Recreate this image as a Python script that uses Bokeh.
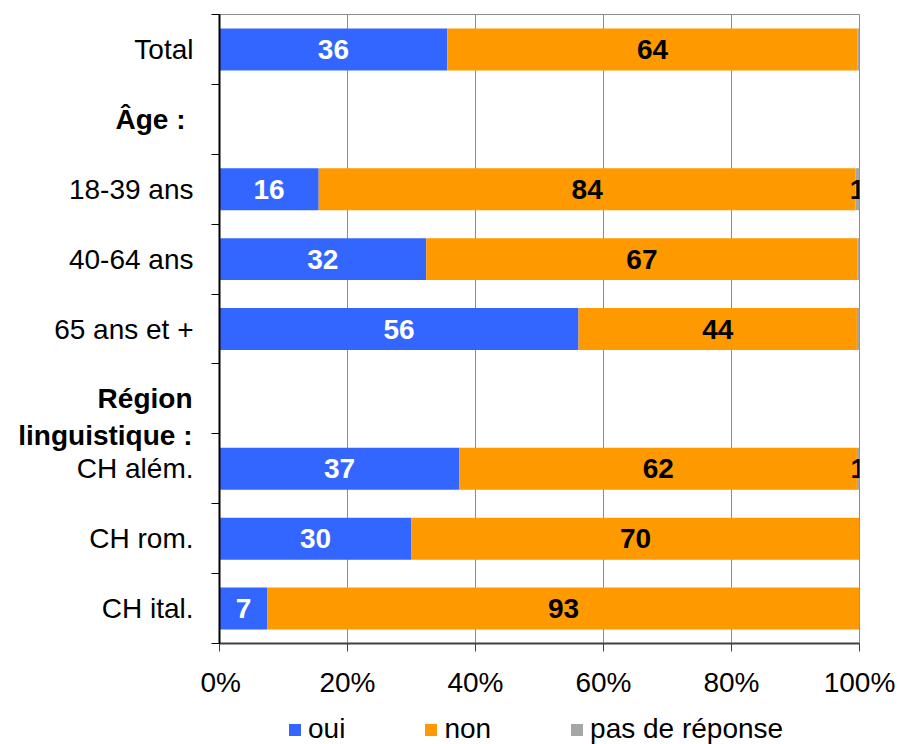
from bokeh.plotting import figure
from bokeh.layouts import row, column
from bokeh.models import (ColumnDataSource, FixedTicker, Legend, LegendItem, Range1d)
from bokeh.core.properties import value
from bokeh.embed import file_html
from bokeh.resources import INLINE

# ---- data -------------------------------------------------------------
categories = ["Total", "Âge :", "18-39 ans", "40-64 ans", "65 ans et +",
              "Région linguistique :", "CH além.", "CH rom.", "CH ital."]
is_header = [False, True, False, False, False, True, False, False, False]
oui = [35.6, 0, 15.5, 32.3, 56.1, 0, 37.5, 30.0, 7.5]
non = [64.1, 0, 83.9, 67.4, 43.5, 0, 62.1, 70.0, 92.5]
pdr = [0.3, 0, 0.6, 0.3, 0.4, 0, 0.4, 0, 0]
oui_lbl = ["36", "", "16", "32", "56", "", "37", "30", "7"]
non_lbl = ["64", "", "84", "67", "44", "", "62", "70", "93"]
pdr_lbl = ["", "", "1", "", "", "", "1", "", ""]
series = ["oui", "non", "pas de réponse"]
colors = ["#3366FF", "#FF9900", "#A6A6A6"]
x_ticks = [0, 20, 40, 60, 80, 100]
x_tick_labels = ["0%", "20%", "40%", "60%", "80%", "100%"]

FONT = "Liberation Sans"
FS = "28px"
n = len(categories)
ypos = [n - 1 - i for i in range(n)]

W = 899
H_MAIN = 704
H_LEG = 40
TOP = 14
BOTTOM = H_MAIN - 643
LBL_W = 200

yr = Range1d(-0.5, n - 0.5)

# ---- label column (left) ---------------------------------------------
pl = figure(width=LBL_W, height=H_MAIN, output_backend="svg", toolbar_location=None,
            x_range=Range1d(0, LBL_W), y_range=yr,
            x_axis_type=None, y_axis_type=None,
            min_border_left=0, min_border_right=0,
            min_border_top=TOP, min_border_bottom=BOTTOM)
pl.outline_line_color = None
pl.grid.visible = False

lx, ly, lt, loff, lbold = [], [], [], [], []
for c, h, y in zip(categories, is_header, ypos):
    if not h:
        lx.append(LBL_W); ly.append(y); lt.append(c); loff.append(-7); lbold.append("normal")
    elif c.startswith("Région"):
        for k, part in enumerate(["Région", "linguistique :"]):
            lx.append(LBL_W); ly.append(y - 0.53 * k); lt.append(part)
            loff.append(-8); lbold.append("bold")
    else:
        lx.append(LBL_W); ly.append(y); lt.append(c); loff.append(-15); lbold.append("bold")

lsrc = ColumnDataSource(dict(x=lx, y=ly, t=lt, off=loff, st=lbold))
pl.text(x="x", y="y", text="t", x_offset="off", source=lsrc,
        text_align="right", text_baseline="middle",
        text_font=value(FONT), text_font_size=value(FS),
        text_font_style="st", text_color="black")

# ---- main chart -------------------------------------------------------
src = ColumnDataSource(dict(
    y=ypos, oui=oui, non=non, pdr=pdr,
    oui_c=[o / 2 for o in oui],
    non_c=[o + m / 2 for o, m in zip(oui, non)],
    pdr_c=[o + m + r / 2 for o, m, r in zip(oui, non, pdr)],
    oui_lbl=oui_lbl, non_lbl=non_lbl, pdr_lbl=pdr_lbl,
))

MW = W - LBL_W
p = figure(width=MW, height=H_MAIN, output_backend="svg", toolbar_location=None,
           x_range=Range1d(0, 100), y_range=yr,
           min_border_left=219 - LBL_W, min_border_right=MW - (859 - LBL_W),
           min_border_top=TOP, min_border_bottom=BOTTOM)
p.background_fill_color = "white"
p.border_fill_color = "white"
p.outline_line_color = "#8C8C8C"
p.outline_line_width = 1

p.hbar_stack(["oui", "non", "pdr"], y="y", height=0.6, color=colors,
             source=src, line_width=0)

p.xaxis.ticker = FixedTicker(ticks=x_ticks)
p.xaxis.major_label_overrides = {t: l for t, l in zip(x_ticks, x_tick_labels)}
p.xaxis.major_label_text_font = FONT
p.xaxis.major_label_text_font_size = FS
p.xaxis.major_label_text_color = "black"
p.xaxis.major_label_standoff = 15
p.xaxis.axis_line_color = "#404040"
p.xaxis.axis_line_width = 2
p.xaxis.major_tick_line_color = "#404040"
p.xaxis.major_tick_in = 0
p.xaxis.major_tick_out = 8
p.xaxis.minor_tick_line_color = None

p.yaxis.ticker = FixedTicker(ticks=[], minor_ticks=[k - 0.5 for k in range(n + 1)])
p.yaxis.axis_line_color = "black"
p.yaxis.axis_line_width = 2
p.yaxis.minor_tick_line_color = "black"
p.yaxis.minor_tick_in = 0
p.yaxis.minor_tick_out = 8
p.yaxis.major_tick_line_color = None

p.xgrid.ticker = FixedTicker(ticks=x_ticks[1:])
p.xgrid.grid_line_color = "#8C8C8C"
p.xgrid.grid_line_width = 1
p.ygrid.grid_line_color = None

for col, lcol, tc in [("oui_c", "oui_lbl", "white"), ("non_c", "non_lbl", "black"),
                      ("pdr_c", "pdr_lbl", "black")]:
    p.text(x=col, y="y", text=lcol, source=src,
           text_align="center", text_baseline="middle",
           text_font=value(FONT), text_font_size=value(FS),
           text_font_style="bold", text_color=tc)

# ---- legend strip -----------------------------------------------------
lf = figure(width=W, height=H_LEG, output_backend="svg", toolbar_location=None,
            x_range=Range1d(0, 1), y_range=Range1d(0, 1),
            x_axis_type=None, y_axis_type=None,
            min_border_left=0, min_border_right=0, min_border_top=0, min_border_bottom=0)
lf.outline_line_color = None
lf.background_fill_color = "white"
lf.border_fill_color = "white"
lf.grid.visible = False
# proxy renderers (one point each, far outside the visible range) for the legend keys
leg_rs = [lf.hbar(y=[-50], left=[-50], right=[-49], height=1, fill_color=c,
                  line_color=None) for c in colors]
legend = Legend(items=[LegendItem(label=s, renderers=[r], index=0)
                       for s, r in zip(series, leg_rs)],
                orientation="horizontal", location=(287, -1),
                glyph_width=15, glyph_height=15, label_standoff=6, spacing=78,
                padding=0, margin=0, border_line_color=None,
                background_fill_alpha=0,
                label_text_font=FONT, label_text_font_size=FS,
                label_text_color="black")
lf.add_layout(legend, "center")

layout = column(row(pl, p, spacing=0), lf, spacing=0)
open("out.html", "w").write(file_html(layout, INLINE))
